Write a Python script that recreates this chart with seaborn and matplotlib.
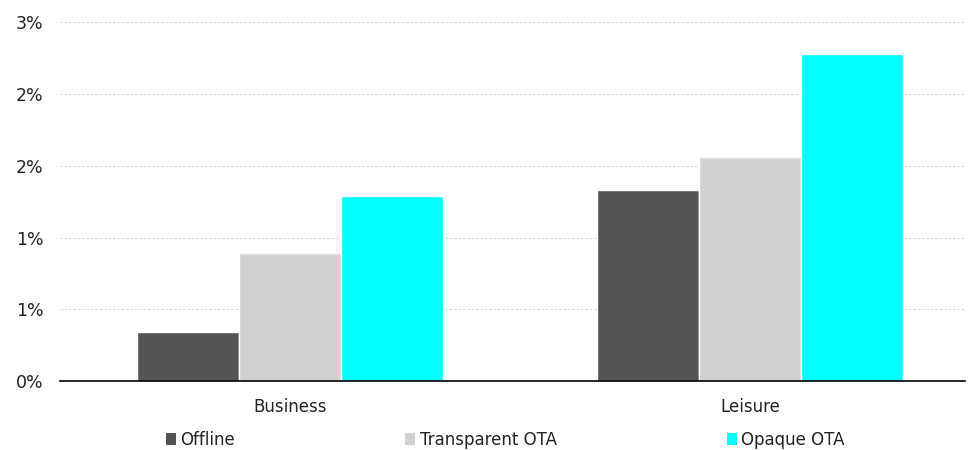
import pandas as pd
import seaborn as sns
import matplotlib.pyplot as plt
from matplotlib.patches import Patch

# values in percent
categories = ['Business', 'Leisure']
channels = ['Offline', 'Transparent OTA', 'Opaque OTA']
offline = [0.34, 1.33]
transparent_ota = [0.89, 1.56]
opaque_ota = [1.29, 2.28]
colors = ['#545454', '#D0D0D0', '#00FFFF']
yticks = [0, 0.5, 1.0, 1.5, 2.0, 2.5]
ytick_labels = ['0%', '1%', '1%', '2%', '2%', '3%']

df = pd.DataFrame({
    'Category': categories * 3,
    'Channel': [c for c in channels for _ in categories],
    'Value': offline + transparent_ota + opaque_ota,
})

sns.set_style('white')
plt.rcParams['font.family'] = ['DejaVu Sans']

fig = plt.figure(figsize=(9.68, 4.5), dpi=100)
ax = fig.add_axes([0.062, 0.153, 0.935, 0.798])

sns.barplot(data=df, x='Category', y='Value', hue='Channel', order=categories,
            hue_order=channels, palette=colors, width=0.665, saturation=1,
            errorbar=None, ax=ax, legend=False)

ax.set_xlim(-0.5, 1.467)
ax.set_ylim(0, 2.5)
ax.set_yticks(yticks)
ax.set_yticklabels(ytick_labels)
ax.set_xlabel('')
ax.set_ylabel('')
ax.yaxis.grid(True, linestyle=(0, (2.5, 2)), color='#D4D4D4', linewidth=0.7)
ax.set_axisbelow(True)
for side in ['top', 'right', 'left']:
    ax.spines[side].set_visible(False)
ax.spines['bottom'].set_color('black')
ax.spines['bottom'].set_linewidth(1.2)
ax.tick_params(axis='y', length=0, pad=12, labelsize=12.5, labelcolor='#222222')
ax.tick_params(axis='x', length=0, pad=12, labelsize=12, labelcolor='#222222')

handles = [Patch(facecolor=c, edgecolor='none') for c in colors]
ax.legend(handles, channels, loc='center', bbox_to_anchor=(0.522, 0.022),
          bbox_transform=fig.transFigure, ncol=3, frameon=False, fontsize=12,
          handlelength=0.6, handleheight=0.7, handletextpad=0.25,
          columnspacing=10.2, labelcolor='#222222')

plt.savefig('out.png', dpi=100)
